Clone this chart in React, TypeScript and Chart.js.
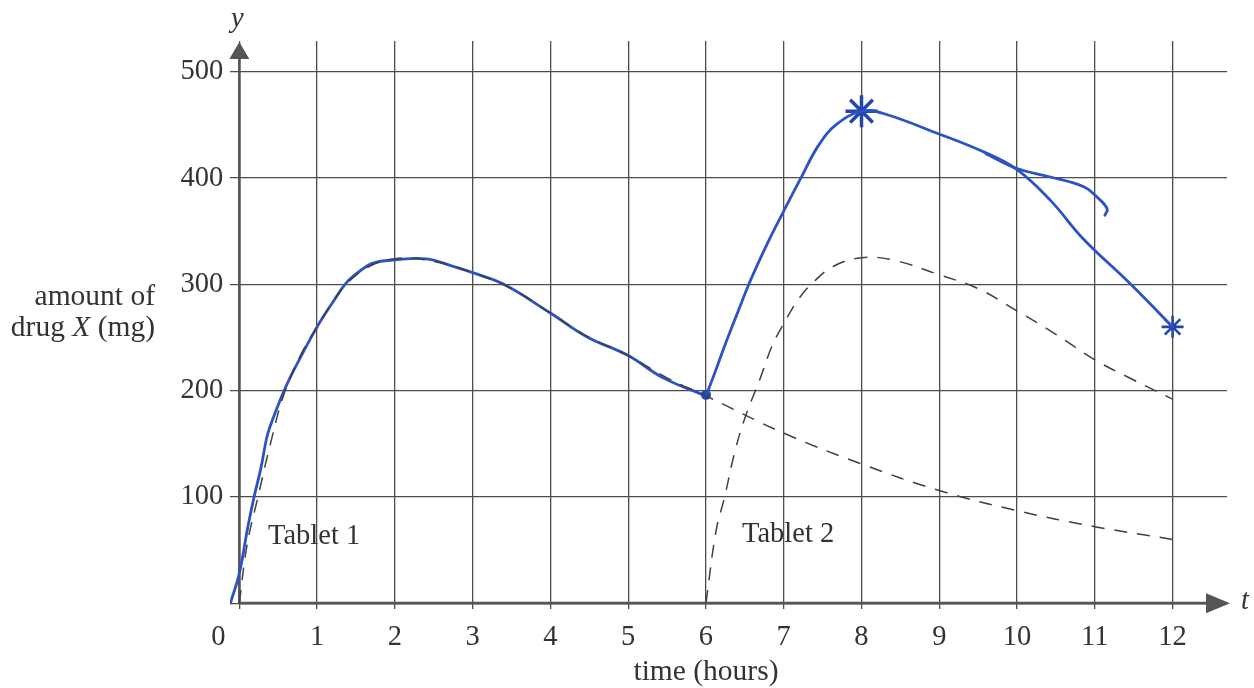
import React, { useEffect, useRef } from "react";
import { Chart, registerables } from "chart.js";

Chart.register(...registerables);

// ---------- data ----------
const xTickValues = [0, 1, 2, 3, 4, 5, 6, 7, 8, 9, 10, 11, 12];
const xTickLabels = ["0", "1", "2", "3", "4", "5", "6", "7", "8", "9", "10", "11", "12"];
const yTickValues = [0, 100, 200, 300, 400, 500];
const yTickLabels = ["", "100", "200", "300", "400", "500"];

// Tablet 1 (dashed)
const tablet1Hours = [0, 0.1, 0.24, 0.41, 0.58, 0.8, 1.0, 1.2, 1.4, 1.7, 2.0, 2.3, 2.7, 3.0, 3.5, 4.0, 4.5, 5.0, 5.5, 6.0, 7, 8, 9, 10, 11, 12];
const tablet1Mg = [0, 55, 100, 153, 198, 235, 260, 283, 302, 318, 324, 324, 318, 311, 296, 273, 250, 233, 212, 195, 160, 131, 106, 87, 72, 60];

// Tablet 2 (dashed)
const tablet2Hours = [6.0, 6.13, 6.24, 6.37, 6.5, 6.7, 6.85, 7.0, 7.19, 7.38, 7.64, 8.0, 8.4, 9.0, 9.5, 10, 10.5, 11, 11.5, 12];
const tablet2Mg = [0, 68, 100, 142, 174, 212, 242, 263, 286, 302, 317, 325, 323, 309, 296, 275, 253, 229, 210, 192];

// Hand-drawn total (blue), first part 0-6 h
const totalAHours = [-0.115, 0, 0.11, 0.19, 0.28, 0.36, 0.45, 0.6, 0.77, 1.0, 1.2, 1.37, 1.54, 1.72, 2.0, 2.4, 2.75, 3.0, 3.4, 4.0, 4.46, 5.0, 5.45, 6.0];
const totalAMg = [0, 28, 72, 100, 128, 158, 177, 204, 229, 260, 283, 301, 312, 320, 323, 324, 317, 311, 300, 273, 251, 233, 212, 195];

// Hand-drawn total (blue), second part 6-12 h
const totalBHours = [6.0, 6.11, 6.24, 6.41, 6.58, 6.8, 7.0, 7.22, 7.45, 7.67, 8.0, 8.27, 8.98, 9.56, 10.0, 10.43, 10.85, 11.45, 12.0];
const totalBMg = [195, 216, 242, 274, 305, 340, 369, 400, 431, 450, 463, 461, 442, 425, 408, 379, 343, 301, 260];

// First (abandoned) attempt of the blue line after 10 h
const firstTryHours = [9.6, 10.0, 10.43, 10.85, 11.03, 11.16, 11.13];
const firstTryMg = [423, 409, 401, 392, 382, 371, 365];

// Marked points
const markHours = [6, 8, 12];
const markMg = [196, 463, 260];

const toPts = (xs: number[], ys: number[]) => xs.map((x, i) => ({ x, y: ys[i] }));

const SERIF = '"Liberation Serif", "DejaVu Serif", serif';
const INK = "#333333";
const GRID = "#4d4d4d";
const BLUE = "#2d52c4";
const TICK_FONT = 28.5;
const TITLE_FONT = 29.5;

const decorations = {
  id: "decorations",
  beforeDatasetsDraw(chart: any) {
    const { ctx, chartArea, scales } = chart;
    const xs = scales.x;
    const ys = scales.y;
    const x0 = xs.getPixelForValue(0);
    const y0 = ys.getPixelForValue(0);
    ctx.save();
    ctx.strokeStyle = "#555555";
    ctx.fillStyle = "#555555";
    ctx.lineWidth = 2.6;
    // x axis
    const xTip = chartArea.right + 3;
    ctx.beginPath();
    ctx.moveTo(x0, y0);
    ctx.lineTo(xTip - 20, y0);
    ctx.stroke();
    ctx.beginPath();
    ctx.moveTo(xTip, y0);
    ctx.lineTo(xTip - 24, y0 - 10);
    ctx.lineTo(xTip - 24, y0 + 10);
    ctx.closePath();
    ctx.fill();
    // y axis
    const yTip = chartArea.top + 1;
    ctx.beginPath();
    ctx.moveTo(x0, y0);
    ctx.lineTo(x0, yTip + 14);
    ctx.stroke();
    ctx.beginPath();
    ctx.moveTo(x0, yTip);
    ctx.lineTo(x0 - 10, yTip + 17);
    ctx.lineTo(x0 + 10, yTip + 17);
    ctx.closePath();
    ctx.fill();
    ctx.restore();
  },
  afterDraw(chart: any) {
    const { ctx, scales } = chart;
    const xs = scales.x;
    const ys = scales.y;
    const x0 = xs.getPixelForValue(0);
    const y0 = ys.getPixelForValue(0);
    ctx.save();
    ctx.fillStyle = INK;
    ctx.font = `${TICK_FONT}px ${SERIF}`;
    ctx.textBaseline = "middle";
    // x tick labels
    ctx.textAlign = "center";
    xTickValues.forEach((v, i) => {
      let px = xs.getPixelForValue(v);
      if (v === 0) px -= 21;
      ctx.fillText(xTickLabels[i], px, y0 + 34);
    });
    // y tick labels
    ctx.textAlign = "right";
    yTickValues.forEach((v, i) => {
      if (!yTickLabels[i]) return;
      ctx.fillText(yTickLabels[i], x0 - 16, ys.getPixelForValue(v));
    });
    // axis titles
    const tf = `${TITLE_FONT}px ${SERIF}`;
    const tfi = `italic ${TITLE_FONT}px ${SERIF}`;
    ctx.font = tf;
    ctx.textAlign = "center";
    ctx.fillText("time (hours)", xs.getPixelForValue(6), y0 + 69);
    ctx.textAlign = "right";
    ctx.fillText("amount of", 155, 297);
    // "drug X (mg)" with italic X
    const right = 155;
    const yLine = 328;
    ctx.font = tf;
    const partC = " (mg)";
    const wC = ctx.measureText(partC).width;
    ctx.font = tfi;
    const partB = "X";
    const wB = ctx.measureText(partB).width;
    ctx.font = tf;
    const partA = "drug ";
    const wA = ctx.measureText(partA).width;
    ctx.textAlign = "left";
    const start = right - wA - wB - wC;
    ctx.fillText(partA, start, yLine);
    ctx.font = tfi;
    ctx.fillText(partB, start + wA, yLine);
    ctx.font = tf;
    ctx.fillText(partC, start + wA + wB, yLine);
    // curve labels
    ctx.font = `${TICK_FONT}px ${SERIF}`;
    ctx.textAlign = "left";
    ctx.fillText("Tablet 1", 268, 537);
    ctx.fillText("Tablet 2", 742, 535);
    // axis letters
    ctx.font = `italic ${TICK_FONT}px ${SERIF}`;
    ctx.textAlign = "center";
    ctx.fillText("y", x0 - 2, 20);
    ctx.fillText("t", 1245, y0 - 2);
    ctx.restore();
  },
};

export default function App() {
  const canvasRef = useRef<HTMLCanvasElement | null>(null);

  useEffect(() => {
    if (!canvasRef.current) return;
    const dashed = {
      borderColor: "#404040",
      borderWidth: 1.5,
      borderDash: [13, 10],
      pointRadius: 0,
      tension: 0.4,
      fill: false,
    };
    const blue = {
      borderColor: BLUE,
      borderWidth: 2.8,
      pointRadius: 0,
      tension: 0.4,
      fill: false,
      borderCapStyle: "round",
      borderJoinStyle: "round",
    };
    const chart = new Chart(canvasRef.current, {
      type: "line",
      data: {
        datasets: [
          { label: "Tablet 1", data: toPts(tablet1Hours, tablet1Mg), ...dashed },
          { label: "Tablet 2", data: toPts(tablet2Hours, tablet2Mg), ...dashed },
          { label: "Total A", data: toPts(totalAHours, totalAMg), ...blue },
          { label: "Total B", data: toPts(totalBHours, totalBMg), ...blue },
          { label: "First try", data: toPts(firstTryHours, firstTryMg), ...blue },
          {
            label: "Marks",
            data: toPts(markHours, markMg),
            showLine: false,
            pointStyle: ["circle", "star", "star"],
            pointRadius: [4, 16, 11],
            pointBorderWidth: [2, 3.5, 2.6],
            pointBorderColor: "#2544b0",
            pointBackgroundColor: "#2544b0",
          } as any,
        ],
      },
      options: {
        animation: false,
        responsive: true,
        maintainAspectRatio: false,
        layout: { padding: { left: 230, right: 27, top: 41, bottom: 79 } },
        plugins: { legend: { display: false }, tooltip: { enabled: false } },
        events: [],
        scales: {
          x: {
            type: "linear",
            min: -0.12,
            max: 12.7,
            afterBuildTicks: (s: any) => {
              s.ticks = xTickValues.map((v) => ({ value: v }));
            },
            ticks: { display: false },
            grid: { color: GRID, lineWidth: 1.3, drawTicks: false },
            border: { display: false },
          },
          y: {
            type: "linear",
            min: -5.5,
            max: 529,
            afterBuildTicks: (s: any) => {
              s.ticks = yTickValues.map((v) => ({ value: v }));
            },
            ticks: { display: false },
            grid: { color: GRID, lineWidth: 1.3, drawTicks: false },
            border: { display: false },
          },
        },
      } as any,
      plugins: [decorations],
    });
    return () => chart.destroy();
  }, []);

  return (
    <div style={{ position: "absolute", left: 0, top: 0, width: 1254, height: 688, background: "#ffffff" }}>
      <canvas ref={canvasRef} />
    </div>
  );
}
